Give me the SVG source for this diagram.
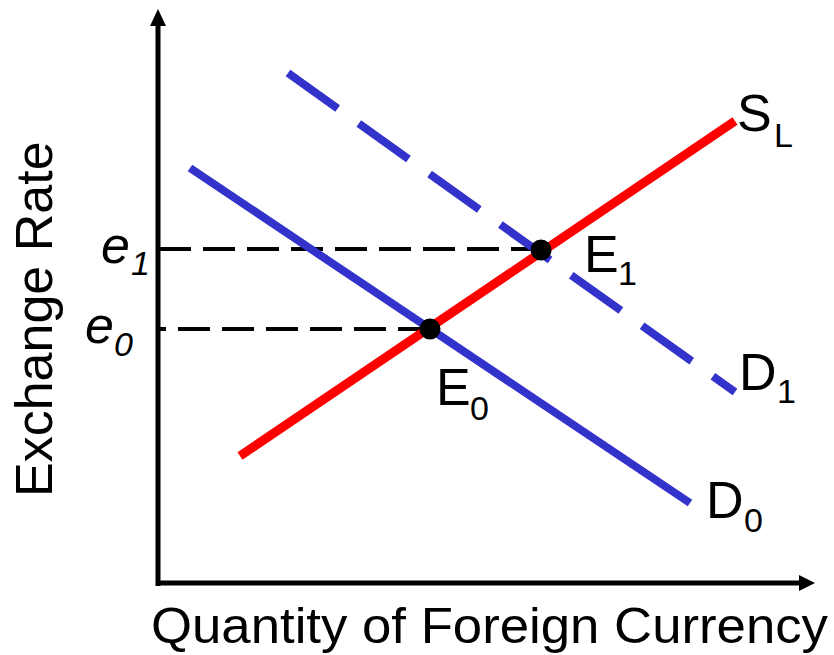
<svg xmlns="http://www.w3.org/2000/svg" width="834" height="655" viewBox="0 0 834 655">
<style>
.t{font-family:"Liberation Sans",Arial,sans-serif;fill:#000}
.m{font-size:52px}
.s{font-size:34px}
.i{font-style:italic}
.blue{stroke:#3333cc;stroke-width:8;fill:none}
.red{stroke:#ff0000;stroke-width:9;fill:none}
.guide{stroke:#000;stroke-width:4;stroke-dasharray:32 12;fill:none}
.axis{stroke:#000;stroke-width:5;fill:none}
</style>
<rect width="834" height="655" fill="#fff"/>
<g id="axes">
<line class="axis" x1="158" y1="586" x2="158" y2="22"/>
<polygon points="158,9 150,26 166,26" fill="#000"/>
<line class="axis" x1="156" y1="583" x2="801" y2="583"/>
<polygon points="815,583 799,575 799,591" fill="#000"/>
</g>
<g id="connectors">
<line class="guide" x1="159" y1="249" x2="541" y2="249"/>
<line class="guide" x1="430" y1="329" x2="160" y2="329"/>
<line id="D0-line" class="blue" x1="190" y1="168" x2="690" y2="503"/>
<line id="D1-line" class="blue" x1="288" y1="73" x2="735" y2="392" stroke-dasharray="61 26"/>
<line id="SL-line" class="red" x1="240" y1="456" x2="735" y2="121"/>
</g>
<g id="E1"><circle cx="541" cy="250" r="10.5" fill="#000"/>
<text class="t m" x="584" y="272">E</text><text class="t s" x="618" y="285">1</text></g>
<g id="E0"><circle cx="430" cy="329" r="10.5" fill="#000"/>
<text class="t m" x="436" y="405">E</text><text class="t s" x="470" y="420">0</text></g>
<g id="SL"><text class="t m" x="737" y="131">S</text><text class="t s" x="774" y="147">L</text></g>
<g id="D1"><text class="t m" x="739" y="390">D</text><text class="t s" x="777" y="403">1</text></g>
<g id="D0"><text class="t m" x="706" y="518">D</text><text class="t s" x="744" y="532">0</text></g>
<g id="e1"><text class="t m i" x="101" y="263">e</text><text class="t s i" x="131" y="275">1</text></g>
<g id="e0"><text class="t m i" x="85" y="343">e</text><text class="t s i" x="114" y="356">0</text></g>
<g id="labels">
<text class="t" font-size="52" transform="translate(52,497) rotate(-90)">Exchange Rate</text>
<text class="t" font-size="50" x="151" y="643" textLength="677" lengthAdjust="spacingAndGlyphs">Quantity of Foreign Currency</text>
</g>
</svg>
